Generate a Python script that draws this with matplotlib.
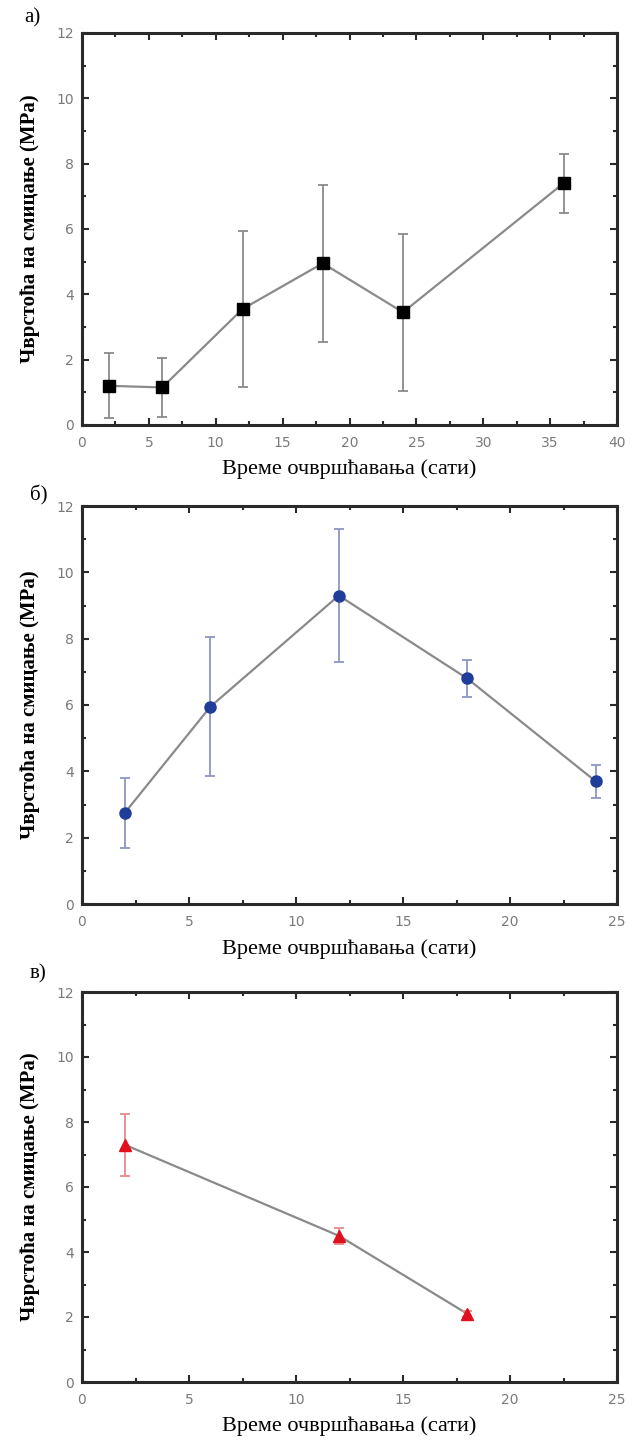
import matplotlib
matplotlib.use("Agg")
import matplotlib.pyplot as plt
from matplotlib.ticker import MultipleLocator

# panel а) - black squares
xa = [2, 6, 12, 18, 24, 36]
ya = [1.2, 1.15, 3.55, 4.95, 3.45, 7.4]
ea = [1.0, 0.9, 2.4, 2.4, 2.4, 0.9]

# panel б) - blue circles
xb = [2, 6, 12, 18, 24]
yb = [2.75, 5.95, 9.3, 6.8, 3.7]
eb = [1.05, 2.1, 2.0, 0.55, 0.5]

# panel в) - red triangles
xc = [2, 12, 18]
yc = [7.3, 4.5, 2.1]
ec = [0.95, 0.25, 0.1]

panel_labels = ["а)", "б)", "в)"]
xlabel = "Време очвршћавања (сати)"
ylabel = "Чврстоћа на смицање (MPa)"

W, H = 633, 1440
fig = plt.figure(figsize=(W / 100, H / 100), dpi=100)

# axes boxes in pixels: left, top, right, bottom
pix = [(82, 33, 617, 425), (82, 506, 617, 904), (82, 992, 617, 1382)]
# panel label positions in pixels
lab_pos = [(24, 18), (30, 495), (30, 974)]

series = [
    (xa, ya, ea, "s", 8, "#000000", "#8a8a8a", 40),
    (xb, yb, eb, "o", 8, "#1f3d99", "#8c96c4", 25),
    (xc, yc, ec, "^", 9, "#e0101c", "#e68a8a", 25),
]

serif = ["Liberation Serif", "DejaVu Serif"]

for i, (p, s) in enumerate(zip(pix, series)):
    x, y, e, mk, ms, mcol, ecol, xmax = s
    l, t, r, b = p
    ax = fig.add_axes([l / W, 1 - b / H, (r - l) / W, (b - t) / H])
    ax.errorbar(x, y, yerr=e, fmt="none", ecolor=ecol, elinewidth=1.3,
                capsize=3.5, capthick=1.3, zorder=2)
    ax.plot(x, y, color="#8a8a8a", lw=1.6, zorder=1)
    ax.plot(x, y, ls="none", marker=mk, ms=ms, color=mcol,
            markeredgecolor=mcol, zorder=3)
    ax.set_xlim(0, xmax)
    ax.set_ylim(0, 12)
    ax.xaxis.set_major_locator(MultipleLocator(5))
    ax.xaxis.set_minor_locator(MultipleLocator(2.5))
    ax.yaxis.set_major_locator(MultipleLocator(2))
    ax.yaxis.set_minor_locator(MultipleLocator(1))
    ax.tick_params(which="both", direction="in", top=True, right=True,
                   color="#2a2a2a", width=1.5, labelcolor="#7a7a7a",
                   labelsize=10)
    ax.tick_params(which="major", length=5)
    ax.tick_params(which="minor", length=3)
    ax.tick_params(axis="x", pad=8)
    ax.tick_params(axis="y", pad=6)
    for sp in ax.spines.values():
        sp.set_linewidth(2.2)
        sp.set_color("#2a2a2a")
    ax.set_xlabel(xlabel, family=serif, fontsize=16)
    ax.xaxis.set_label_coords(0.5, -0.088)
    ax.set_ylabel(ylabel, family=serif, fontsize=15, fontweight="bold")
    ax.yaxis.set_label_coords((40 - l) / (r - l), 0.5)
    lx, ly = lab_pos[i]
    fig.text(lx / W, 1 - ly / H, panel_labels[i], family=serif, fontsize=15,
             ha="left", va="center")

fig.savefig("out.png", dpi=100)
